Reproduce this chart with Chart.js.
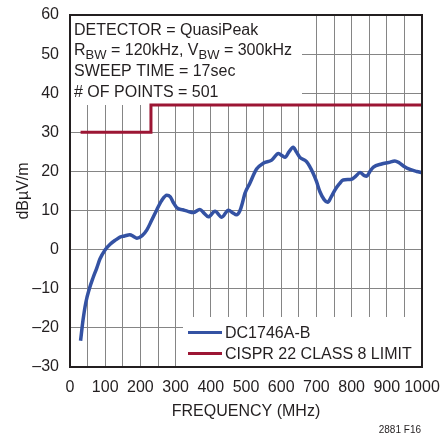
<!DOCTYPE html>
<html>
<head>
<meta charset="utf-8">
<script src="https://cdn.jsdelivr.net/npm/chart.js@4/dist/chart.umd.min.js"></script>
<style>
  body { margin: 0; background: #fff; }
  #wrap { width: 441px; height: 440px; }
</style>
</head>
<body>
<div id="wrap"><canvas id="chartCanvas" width="441" height="440"></canvas></div>
<script>
const freqMHz = [30, 37, 45, 55, 65, 76, 85, 100, 114, 130, 142, 155, 170, 180, 190, 205, 218, 232, 246, 260,
  275, 285, 294, 305, 320, 335, 350, 369, 380, 393, 412, 431, 450, 463, 473, 483, 490, 497, 511, 530,
  549, 573, 592, 603, 611, 622, 634, 643, 653, 672, 691, 700, 710, 722, 732, 742, 753, 765, 776, 800,
  812, 824, 835, 843, 852, 862, 885, 905, 923, 935, 947, 966, 985, 1000];
const dc1746 = [-23.3, -18, -13.5, -10, -7.3, -4.7, -2.4, 0, 1.4, 2.5, 3.2, 3.5, 3.8, 3.4, 2.9, 3.6, 5.0, 7.5, 10.1, 12.5,
  13.9, 13.5, 12, 10.6, 10.2, 9.8, 9.5, 10.3, 9.4, 8.4, 9.8, 8.3, 10.1, 9.4, 8.9, 10.0, 12, 14.4, 17, 20.6,
  22.1, 22.9, 24.6, 24.0, 23.6, 25, 26.2, 25, 23.6, 22.5, 19.5, 17.5, 14.8, 12.8, 12.1, 13.5, 15.3, 16.8, 17.8, 18.0,
  18.8, 19.7, 19.0, 18.8, 20, 21.1, 21.9, 22.3, 22.7, 22.2, 21.4, 20.5, 20.0, 19.7];

// CISPR 22 class B quasi-peak limit
const limitFreq = [30, 230, 230, 1000];
const limitLevel = [30, 30, 37, 37];

const seriesNames = ['DC1746A-B', 'CISPR 22 CLASS 8 LIMIT'];
const seriesColors = ['#3452a3', '#9c1634'];

const noteLines = [
  ['DETECTOR = QuasiPeak'],
  ['R', 'BW', ' = 120kHz, V', 'BW', ' = 300kHz'],
  ['SWEEP TIME = 17sec'],
  ['# OF POINTS = 501']
];
const figId = '2881 F16';

const FONT = "'Liberation Sans', Arial, sans-serif";

const notesPlugin = {
  id: 'notes',
  beforeDatasetsDraw(chart) {
    const ctx = chart.ctx;
    const a = chart.chartArea;
    ctx.save();
    // white panels hide the grid behind the notes and the legend
    ctx.fillStyle = '#fff';
    ctx.fillRect(a.left, a.top, 302 - a.left, 105 - a.top);
    ctx.fillRect(183, 317, a.right - 183, a.bottom - 317);

    ctx.fillStyle = '#231f20';
    ctx.textBaseline = 'alphabetic';
    ctx.textAlign = 'left';
    const baselines = [34.5, 55.2, 75.9, 96.6];
    noteLines.forEach((parts, i) => {
      let x = 74;
      parts.forEach((p, j) => {
        const sub = j % 2 === 1;
        ctx.font = (sub ? '13px ' : '16px ') + FONT;
        ctx.fillText(p, x, baselines[i] + (sub ? 3.5 : 0));
        x += ctx.measureText(p).width;
      });
    });

    // legend
    const ys = [332.5, 353.5];
    chart.data.datasets.forEach((ds, i) => {
      ctx.strokeStyle = ds.borderColor;
      ctx.lineWidth = 3;
      ctx.beginPath();
      ctx.moveTo(188, ys[i]);
      ctx.lineTo(222, ys[i]);
      ctx.stroke();
      ctx.font = '16px ' + FONT;
      ctx.fillText(ds.label, 225, ys[i] + 5.5);
    });

    ctx.font = '10px ' + FONT;
    ctx.textAlign = 'right';
    ctx.fillText(figId, 421, 433);
    ctx.restore();
  },
  afterDatasetsDraw(chart) {
    const ctx = chart.ctx;
    const a = chart.chartArea;
    ctx.save();
    ctx.strokeStyle = '#231f20';
    ctx.lineWidth = 2;
    ctx.strokeRect(a.left, a.top, a.right - a.left, a.bottom - a.top);
    ctx.restore();
  }
};

const ctx = document.getElementById('chartCanvas').getContext('2d');
new Chart(ctx, {
  type: 'line',
  data: {
    datasets: [{
      label: seriesNames[0],
      data: freqMHz.map((f, i) => ({ x: f, y: dc1746[i] })),
      borderColor: seriesColors[0],
      borderWidth: 3.5,
      pointRadius: 0,
      cubicInterpolationMode: 'monotone',
      fill: false
    }, {
      label: seriesNames[1],
      data: limitFreq.map((f, i) => ({ x: f, y: limitLevel[i] })),
      borderColor: seriesColors[1],
      borderWidth: 3,
      pointRadius: 0,
      tension: 0,
      fill: false
    }]
  },
  options: {
    responsive: false,
    animation: false,
    layout: { padding: { top: 15, right: 19, left: 0, bottom: 0 } },
    plugins: {
      legend: { display: false },
      tooltip: { enabled: false }
    },
    scales: {
      x: {
        type: 'linear',
        min: 0,
        max: 1000,
        afterFit: (s) => { s.height = 73; s.paddingLeft = 0; s.paddingRight = 0; },
        grid: { color: '#858585', lineWidth: 1, drawTicks: false },
        border: { display: false },
        ticks: {
          stepSize: 50,
          autoSkip: false,
          maxRotation: 0,
          padding: 11,
          color: '#231f20',
          font: { size: 16, family: FONT },
          callback: (v) => (v % 100 === 0 ? String(v) : '')
        },
        title: {
          display: true,
          text: 'FREQUENCY (MHz)',
          color: '#231f20',
          font: { size: 16, family: FONT },
          padding: { top: 0, bottom: 19 }
        }
      },
      y: {
        min: -30,
        max: 60,
        afterFit: (s) => { s.width = 70; s.paddingTop = 0; s.paddingBottom = 0; },
        grid: { color: '#858585', lineWidth: 1, drawTicks: false },
        border: { display: false },
        ticks: {
          stepSize: 10,
          padding: 11,
          color: '#231f20',
          font: { size: 16, family: FONT },
          callback: (v) => (v < 0 ? '\u2013' + Math.abs(v) : String(v))
        },
        title: {
          display: true,
          text: 'dBµV/m',
          color: '#231f20',
          font: { size: 16, family: FONT },
          padding: { top: 14, bottom: 0 }
        }
      }
    }
  },
  plugins: [notesPlugin]
});
</script>
</body>
</html>
